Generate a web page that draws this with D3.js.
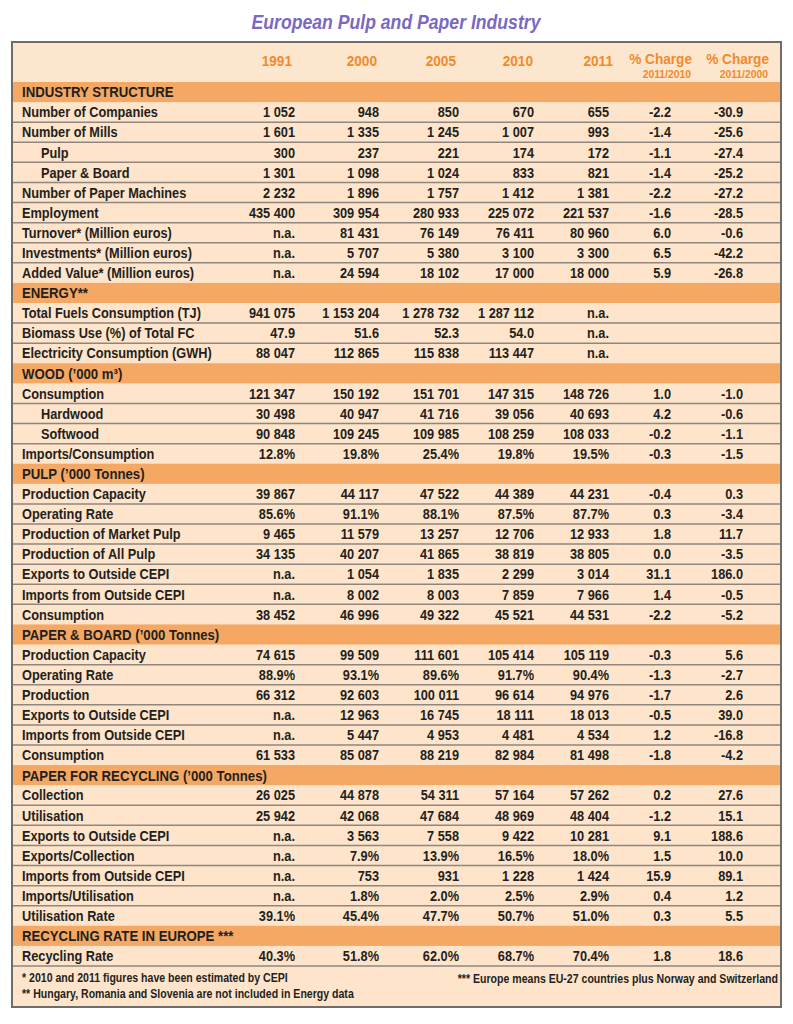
<!DOCTYPE html>
<html><head><meta charset="utf-8">
<script src="https://cdn.jsdelivr.net/npm/d3@7"></script>
<style>body{margin:0;background:#fff}</style>
</head><body>
<svg id="chart" width="793" height="1024"></svg>
<script>
const chartTitle = "European Pulp and Paper Industry";
const yearColumns = ["1991", "2000", "2005", "2010", "2011"];
const changeColumns = ["% Charge", "% Charge"];
const changePeriods = ["2011/2010", "2011/2000"];
const indentedRows = ["Pulp", "Paper & Board", "Hardwood", "Softwood"];

const industryStructure = [
  ["Number of Companies", "1 052", "948", "850", "670", "655", "-2.2", "-30.9"],
  ["Number of Mills", "1 601", "1 335", "1 245", "1 007", "993", "-1.4", "-25.6"],
  ["Pulp", "300", "237", "221", "174", "172", "-1.1", "-27.4"],
  ["Paper & Board", "1 301", "1 098", "1 024", "833", "821", "-1.4", "-25.2"],
  ["Number of Paper Machines", "2 232", "1 896", "1 757", "1 412", "1 381", "-2.2", "-27.2"],
  ["Employment", "435 400", "309 954", "280 933", "225 072", "221 537", "-1.6", "-28.5"],
  ["Turnover* (Million euros)", "n.a.", "81 431", "76 149", "76 411", "80 960", "6.0", "-0.6"],
  ["Investments* (Million euros)", "n.a.", "5 707", "5 380", "3 100", "3 300", "6.5", "-42.2"],
  ["Added Value* (Million euros)", "n.a.", "24 594", "18 102", "17 000", "18 000", "5.9", "-26.8"]
];
const energy = [
  ["Total Fuels Consumption (TJ)", "941 075", "1 153 204", "1 278 732", "1 287 112", "n.a.", "", ""],
  ["Biomass Use (%) of Total FC", "47.9", "51.6", "52.3", "54.0", "n.a.", "", ""],
  ["Electricity Consumption (GWH)", "88 047", "112 865", "115 838", "113 447", "n.a.", "", ""]
];
const wood = [
  ["Consumption", "121 347", "150 192", "151 701", "147 315", "148 726", "1.0", "-1.0"],
  ["Hardwood", "30 498", "40 947", "41 716", "39 056", "40 693", "4.2", "-0.6"],
  ["Softwood", "90 848", "109 245", "109 985", "108 259", "108 033", "-0.2", "-1.1"],
  ["Imports/Consumption", "12.8%", "19.8%", "25.4%", "19.8%", "19.5%", "-0.3", "-1.5"]
];
const pulp = [
  ["Production Capacity", "39 867", "44 117", "47 522", "44 389", "44 231", "-0.4", "0.3"],
  ["Operating Rate", "85.6%", "91.1%", "88.1%", "87.5%", "87.7%", "0.3", "-3.4"],
  ["Production of Market Pulp", "9 465", "11 579", "13 257", "12 706", "12 933", "1.8", "11.7"],
  ["Production of All Pulp", "34 135", "40 207", "41 865", "38 819", "38 805", "0.0", "-3.5"],
  ["Exports to Outside CEPI", "n.a.", "1 054", "1 835", "2 299", "3 014", "31.1", "186.0"],
  ["Imports from Outside CEPI", "n.a.", "8 002", "8 003", "7 859", "7 966", "1.4", "-0.5"],
  ["Consumption", "38 452", "46 996", "49 322", "45 521", "44 531", "-2.2", "-5.2"]
];
const paperBoard = [
  ["Production Capacity", "74 615", "99 509", "111 601", "105 414", "105 119", "-0.3", "5.6"],
  ["Operating Rate", "88.9%", "93.1%", "89.6%", "91.7%", "90.4%", "-1.3", "-2.7"],
  ["Production", "66 312", "92 603", "100 011", "96 614", "94 976", "-1.7", "2.6"],
  ["Exports to Outside CEPI", "n.a.", "12 963", "16 745", "18 111", "18 013", "-0.5", "39.0"],
  ["Imports from Outside CEPI", "n.a.", "5 447", "4 953", "4 481", "4 534", "1.2", "-16.8"],
  ["Consumption", "61 533", "85 087", "88 219", "82 984", "81 498", "-1.8", "-4.2"]
];
const paperForRecycling = [
  ["Collection", "26 025", "44 878", "54 311", "57 164", "57 262", "0.2", "27.6"],
  ["Utilisation", "25 942", "42 068", "47 684", "48 969", "48 404", "-1.2", "15.1"],
  ["Exports to Outside CEPI", "n.a.", "3 563", "7 558", "9 422", "10 281", "9.1", "188.6"],
  ["Exports/Collection", "n.a.", "7.9%", "13.9%", "16.5%", "18.0%", "1.5", "10.0"],
  ["Imports from Outside CEPI", "n.a.", "753", "931", "1 228", "1 424", "15.9", "89.1"],
  ["Imports/Utilisation", "n.a.", "1.8%", "2.0%", "2.5%", "2.9%", "0.4", "1.2"],
  ["Utilisation Rate", "39.1%", "45.4%", "47.7%", "50.7%", "51.0%", "0.3", "5.5"]
];
const recyclingRate = [
  ["Recycling Rate", "40.3%", "51.8%", "62.0%", "68.7%", "70.4%", "1.8", "18.6"]
];
const sectionTitles = [
  "INDUSTRY STRUCTURE", "ENERGY**", "WOOD (\u2019000 m\u00B3)", "PULP (\u2019000 Tonnes)",
  "PAPER & BOARD (\u2019000 Tonnes)", "PAPER FOR RECYCLING (\u2019000 Tonnes)", "RECYCLING RATE IN EUROPE ***"
];
const sectionRows = [industryStructure, energy, wood, pulp, paperBoard, paperForRecycling, recyclingRate];
const footnotesLeft = [
  "* 2010 and 2011 figures have been estimated by CEPI",
  "** Hungary, Romania and Slovenia are not included in Energy data"
];
const footnoteRight = "*** Europe means EU-27 countries plus Norway and Switzerland";

// ---------- layout ----------
const W = 793;
const frame = {x0: 12, x1: 781, top: 42, headerBottom: 82, bodyBottom: 966, bottom: 1007};
const FONT = "'Liberation Sans', Arial, Helvetica, sans-serif";
const SX = 0.88; // horizontal condensing to mimic a condensed face
const C = {
  rowBg: "#fde4cb", headBg: "#fde6ce", section: "#f4a863", line: "#8d8780",
  border: "#6f6c69", text: "#231f20", year: "#f28a2a", title: "#7a68c2"
};

function ctext(parent, x, yy, str, size, opts = {}) {
  const t = parent.append("text")
    .attr("transform", `translate(${x},${yy}) scale(${opts.sx || SX},1)`)
    .attr("dy", "0.36em")
    .attr("font-family", FONT).attr("font-weight", "bold")
    .attr("font-size", size)
    .attr("text-anchor", opts.anchor || "start")
    .attr("fill", opts.fill || C.text)
    .text(str);
  if (opts.italic) t.attr("font-style", "italic");
  return t;
}

const flat = [];
sectionTitles.forEach((t, i) => {
  flat.push({kind: "section", label: t});
  sectionRows[i].forEach(r => flat.push({kind: "data", label: r[0], vals: r.slice(1)}));
});

const y = d3.scaleBand().domain(d3.range(flat.length)).range([frame.headerBottom, frame.bodyBottom]).padding(0);
const colIdx = d3.range(7);
const xVal = d3.scaleOrdinal().domain(colIdx).range([295, 379, 459, 534, 609, 671, 743]);
const xHead = d3.scaleOrdinal().domain(colIdx).range([292, 377, 456, 533, 613, 692, 769]);

const svg = d3.select("#chart");
svg.append("rect").attr("width", W).attr("height", 1024).attr("fill", "#fff");

// title
ctext(svg, 396, 22, chartTitle, 20.5, {anchor: "middle", fill: C.title, italic: true, sx: 0.86});

// frame background
svg.append("rect").attr("x", frame.x0).attr("y", frame.top)
  .attr("width", frame.x1 - frame.x0).attr("height", frame.bottom - frame.top).attr("fill", C.rowBg);
svg.append("rect").attr("x", frame.x0).attr("y", frame.top)
  .attr("width", frame.x1 - frame.x0).attr("height", frame.headerBottom - frame.top).attr("fill", C.headBg);

// header
const head = svg.append("g");
yearColumns.forEach((t, i) => ctext(head, xHead(i), 60, t, 15.5, {anchor: "end", fill: C.year}));
changeColumns.forEach((t, j) => {
  const i = 5 + j;
  ctext(head, xHead(i), 58, t, 15.5, {anchor: "end", fill: C.year});
  ctext(head, xHead(i) - 1, 73.5, changePeriods[j], 11.5, {anchor: "end", fill: C.year, sx: 0.9});
});

// rows
const rowsG = svg.append("g");
flat.forEach((d, i) => {
  const g = rowsG.append("g").attr("transform", `translate(0,${y(i)})`);
  const mid = y.bandwidth() / 2;
  if (d.kind === "section") {
    g.append("rect").attr("x", frame.x0).attr("width", frame.x1 - frame.x0)
      .attr("height", y.bandwidth()).attr("fill", C.section);
    ctext(g, 22, mid, d.label, 15);
  } else {
    ctext(g, indentedRows.includes(d.label) ? 41 : 22, mid, d.label, 14.5);
    d.vals.forEach((v, k) => { if (v) ctext(g, xVal(k), mid, v, 14.5, {anchor: "end"}); });
  }
});

// separators between consecutive data rows
const sepIdx = d3.range(1, flat.length).filter(i => flat[i].kind === "data" && flat[i - 1].kind === "data");
svg.append("g").selectAll("line").data(sepIdx).join("line")
  .attr("x1", frame.x0).attr("x2", frame.x1).attr("y1", i => y(i)).attr("y2", i => y(i))
  .attr("stroke", C.line).attr("stroke-width", 1.5);
svg.append("line").attr("x1", frame.x0).attr("x2", frame.x1)
  .attr("y1", frame.bodyBottom).attr("y2", frame.bodyBottom).attr("stroke", C.line).attr("stroke-width", 1.5);

// footnotes
const fn = svg.append("g");
footnotesLeft.forEach((t, i) => ctext(fn, 22, 978 + i * 16, t, 12));
ctext(fn, 778, 979, footnoteRight, 12, {anchor: "end"});

// frame border
svg.append("rect").attr("x", frame.x0).attr("y", frame.top)
  .attr("width", frame.x1 - frame.x0).attr("height", frame.bottom - frame.top)
  .attr("fill", "none").attr("stroke", C.border).attr("stroke-width", 2);
</script>
</body></html>
